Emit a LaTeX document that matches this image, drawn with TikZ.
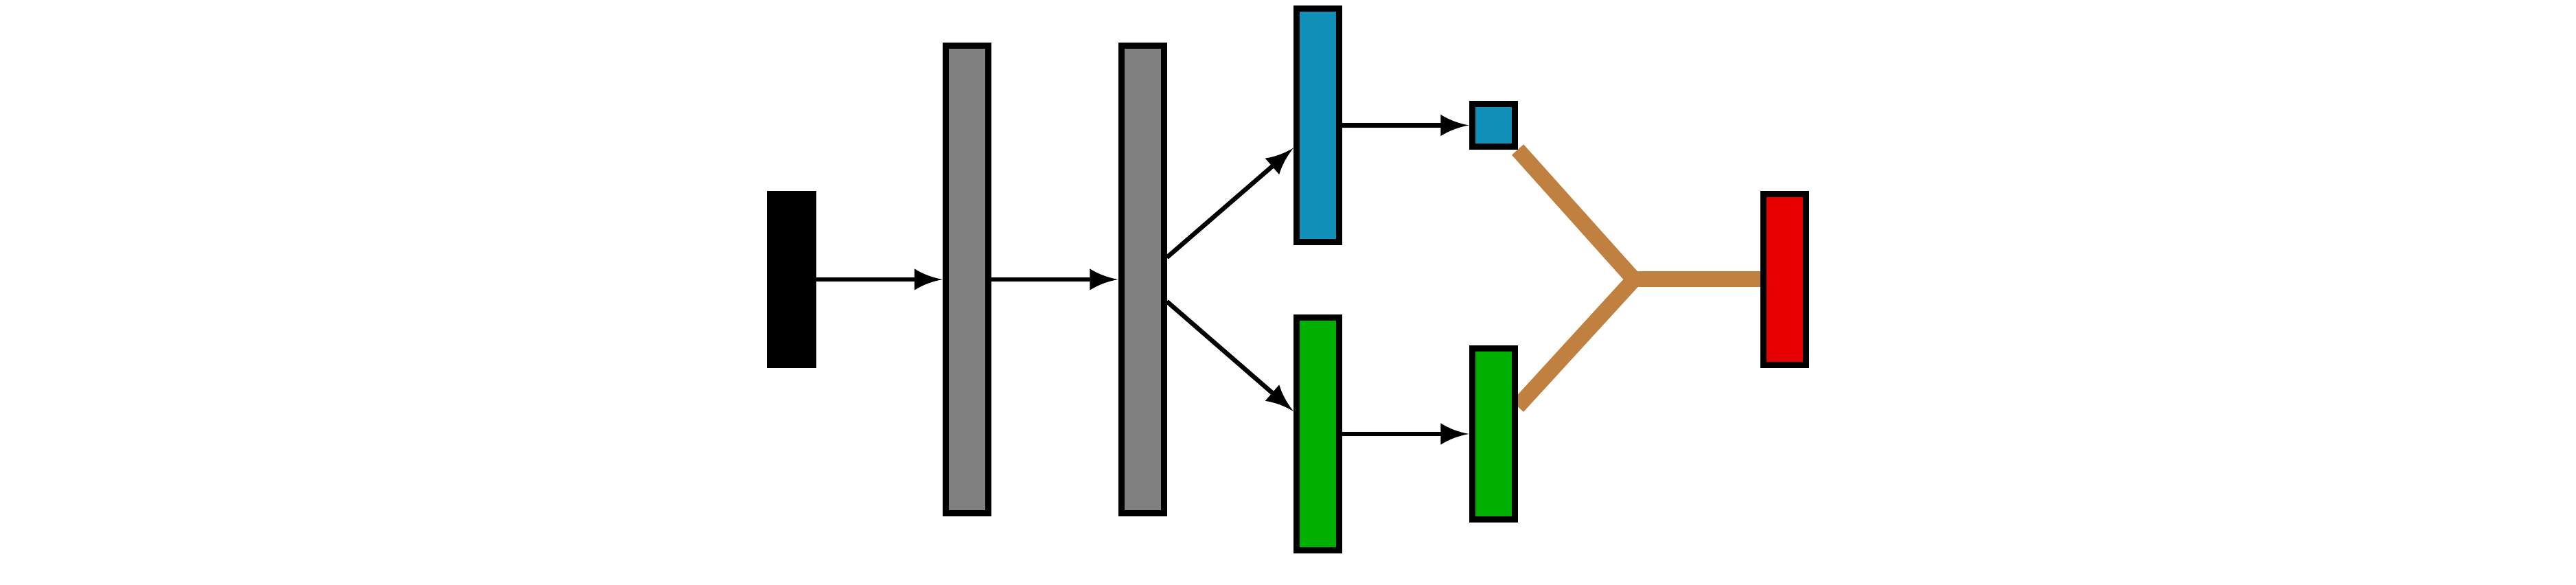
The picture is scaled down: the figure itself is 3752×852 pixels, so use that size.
\documentclass[tikz,border=0pt]{standalone}
\usetikzlibrary{arrows.meta,calc,backgrounds}
\pgfdeclarearrow{
  name = Concave,
  parameters = {\the\pgfarrowlength,\the\pgfarrowwidth},
  setup code = {
    \pgfarrowssettipend{0pt}
    \pgfarrowssetbackend{-\pgfarrowlength}
    \pgfarrowssetlineend{-0.5\pgfarrowlength}
    \pgfarrowsupperhullpoint{0pt}{0pt}
    \pgfarrowsupperhullpoint{-\pgfarrowlength}{0.5\pgfarrowwidth}
    \pgfarrowssavethe\pgfarrowlength
    \pgfarrowssavethe\pgfarrowwidth
  },
  drawing code = {
    \pgfpathmoveto{\pgfpointorigin}
    \pgfpathcurveto{\pgfpoint{-0.35\pgfarrowlength}{0.08\pgfarrowwidth}}{\pgfpoint{-0.7\pgfarrowlength}{0.25\pgfarrowwidth}}{\pgfpoint{-\pgfarrowlength}{0.5\pgfarrowwidth}}
    \pgfpathlineto{\pgfpoint{-\pgfarrowlength}{-0.5\pgfarrowwidth}}
    \pgfpathcurveto{\pgfpoint{-0.7\pgfarrowlength}{-0.25\pgfarrowwidth}}{\pgfpoint{-0.35\pgfarrowlength}{-0.08\pgfarrowwidth}}{\pgfpointorigin}
    \pgfpathclose
    \pgfusepathqfill
  },
  defaults = {length=0.41cm, width=0.31cm}
}
\definecolor{nblue}{RGB}{16,144,185}
\definecolor{ngreen}{RGB}{0,176,0}
\definecolor{nred}{RGB}{230,0,0}
\definecolor{ngray}{RGB}{128,128,128}
\definecolor{nbrown}{RGB}{192,128,64}
\begin{document}
\begin{tikzpicture}[x=0.01cm,y=0.01cm,
  box/.style={draw=black,line width=0.09cm,outer sep=0.045cm,inner sep=0pt,minimum width=0.62cm},
  conn/.style={line width=0.065cm,-{Concave[length=0.41cm,width=0.31cm]}},
  merge/.style={line width=0.23cm,draw=nbrown,line cap=butt}
]
\useasboundingbox (0,0) rectangle (3752,852);
% layers
\node[fill=black,inner sep=0pt,outer sep=0pt,minimum width=0.72cm,minimum height=2.58cm] (in) at (1153,445) {};
\node[box,fill=ngray,minimum height=6.80cm] (g1) at (1408.5,445) {};
\node[box,fill=ngray,minimum height=6.80cm] (g2) at (1664,445) {};
\node[box,fill=nblue,minimum height=3.40cm] (bt) at (1919.5,669.5) {};
\node[box,fill=ngreen,minimum height=3.39cm] (gt) at (1919.5,220) {};
\node[box,fill=nblue,minimum height=0.62cm] (sb) at (2175,669.5) {};
\node[box,fill=ngreen,minimum height=2.49cm] (sg) at (2175,220) {};
\node[box,fill=nred,minimum height=2.48cm] (out) at (2599.5,445) {};
% connectors
\draw[conn] (in.east) -- (g1.west);
\draw[conn] (g1.east) -- (g2.west);
\draw[conn] ($(g2.east)+(0,32)$) -- ($(bt.west)+(0,-33)$);
\draw[conn] ($(g2.east)+(0,-32)$) -- ($(gt.west)+(0,33)$);
\draw[conn] (bt.east) -- (sb.west);
\draw[conn] (gt.east) -- (sg.west);
% merge
\coordinate (J) at (2380,445);
\coordinate (sgp) at ($(sg.east)+(0,40)$);
\begin{scope}[on background layer]
\fill[white] (0,0) rectangle (3752,852);
\draw[merge] (sb.south east) -- (J);
\draw[merge] (sgp) -- (J);
\draw[merge] (J) -- (out.west);
\end{scope}
\end{tikzpicture}
\end{document}
